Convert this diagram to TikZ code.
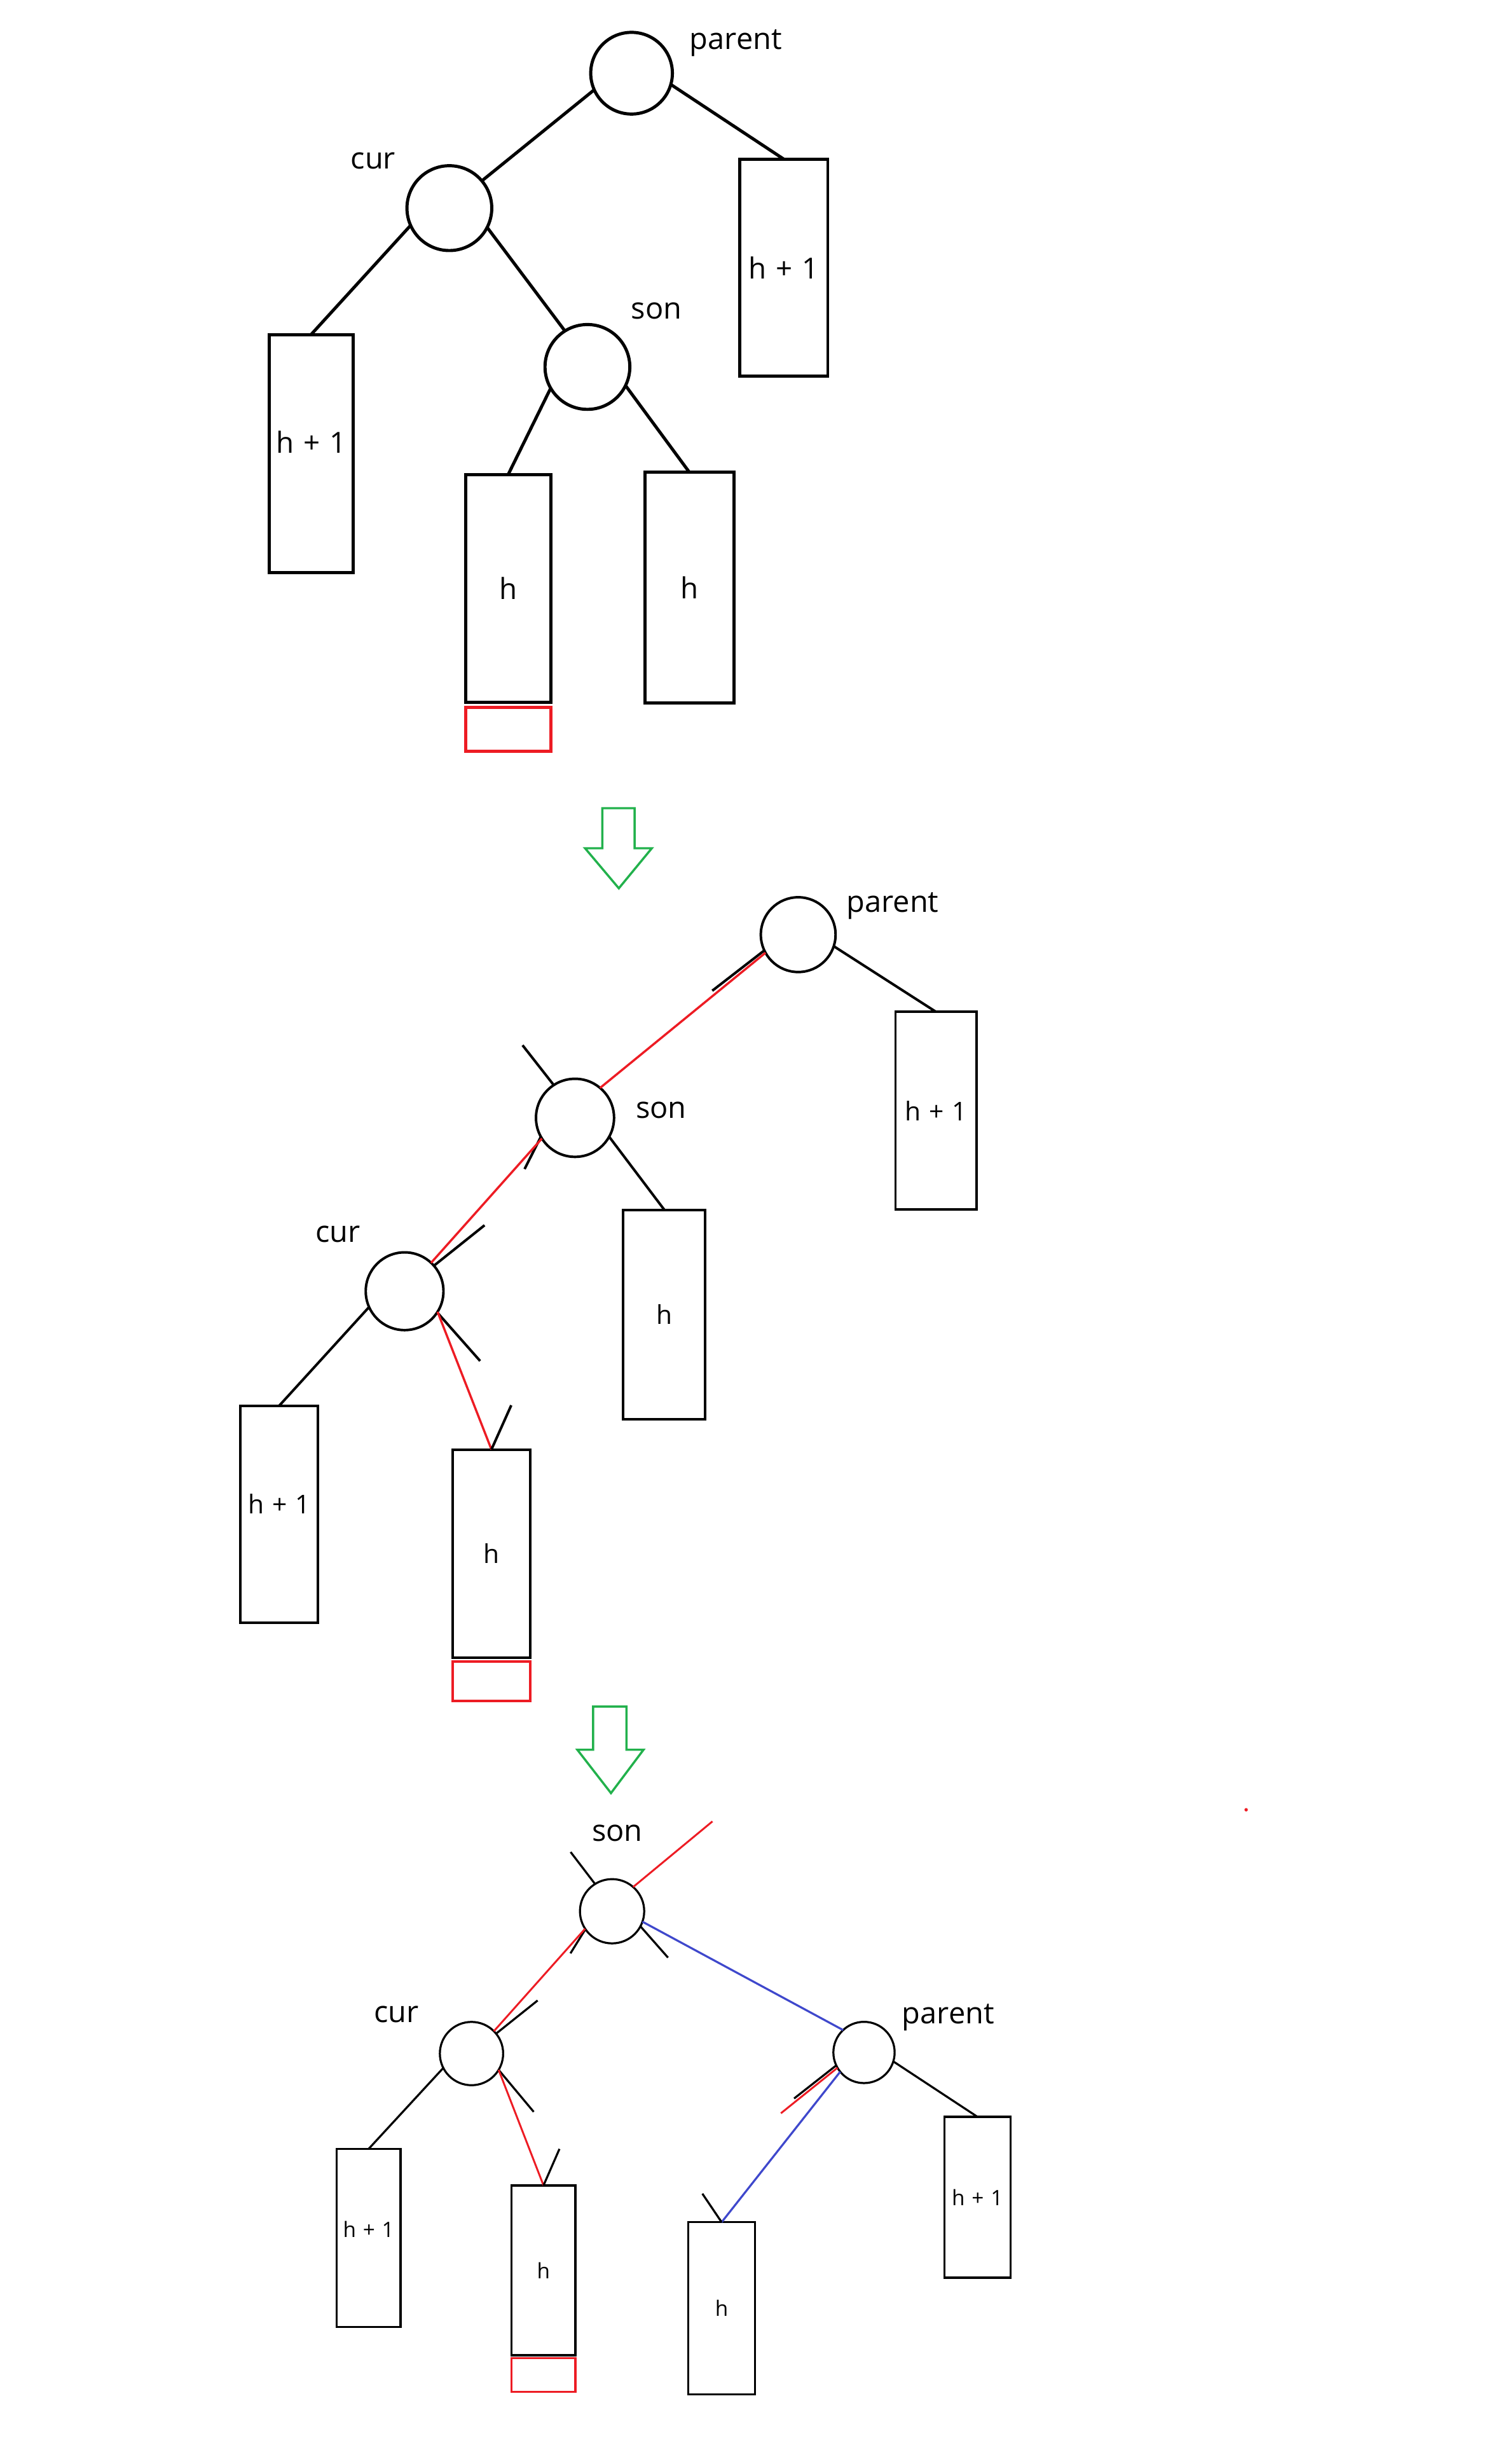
\documentclass[tikz,border=0pt]{standalone}
\usepackage{fontspec}
\setmainfont[WordSpace=1.25]{Open Sans}
\definecolor{pred}{RGB}{237,28,36}
\definecolor{pblue}{RGB}{63,72,204}
\definecolor{pgreen}{RGB}{34,177,76}
\newcommand\lblsz{\fontsize{19}{22}\selectfont}
\newcommand\boxsza{\fontsize{18.5}{22}\selectfont}
\newcommand\boxszb{\fontsize{16.5}{20}\selectfont}
\newcommand\boxszc{\fontsize{13.5}{16}\selectfont}
\begin{document}
\begin{tikzpicture}[x=1pt,y=-1pt,
  vtx/.style={circle, draw, inner sep=0pt, outer sep=0pt},
  sub/.style={rectangle, draw, inner sep=0pt, outer sep=0pt},
  lbl/.style={anchor=base, inner sep=0pt, font=\lblsz},
  wa/.style={line width=2pt},
  wb/.style={line width=1.6pt},
  wc/.style={line width=1.3pt},
  ea/.style={draw=black, wa},
  eb/.style={draw=black, wb},
  ec/.style={draw=black, wc},
  rb/.style={draw=pred, line width=1.4pt},
  rc/.style={draw=pred, line width=1.2pt},
  bc/.style={draw=pblue, line width=1.3pt},
  garrow/.style={draw=pgreen, line width=1.4pt, line join=miter}
]
\useasboundingbox (0,0) rectangle (961,1568.6);

% ---------------- Panel 1 ----------------
\node[vtx, wa, minimum size=52pt] (p1parent) at (402.1,46.6) {};
\node[vtx, wa, minimum size=54pt] (p1cur) at (286.1,132.5) {};
\node[vtx, wa, minimum size=54pt] (p1son) at (374,233.6) {};
\node[sub, wa, minimum width=56.1pt, minimum height=138.1pt, font=\boxsza] (p1rbox) at (499,170.35) {h + 1};
\node[sub, wa, minimum width=53.3pt, minimum height=151.7pt, text depth=14.8pt, font=\boxsza] (p1lbox) at (198.05,288.85) {h + 1};
\node[sub, wa, minimum width=54pt, minimum height=145pt, font=\boxsza] (p1hl) at (323.6,374.5) {h};
\node[sub, wa, minimum width=56.5pt, minimum height=146.9pt, font=\boxsza] (p1hr) at (438.95,374.15) {h};
\node[sub, draw=pred, wa, minimum width=54.3pt, minimum height=28.1pt] (p1red) at (323.75,464.35) {};

\draw[ea] (p1parent.204) -- (p1cur.40);
\draw[ea] (p1parent.-16) -- (p1rbox.north);
\draw[ea] (p1cur.204) -- (p1lbox.north);
\draw[ea] (p1cur.-27) -- (p1son.122);
\draw[ea] (p1son.210) -- (p1hl.north);
\draw[ea] (p1son.-26) -- (p1hr.north);

\node[lbl] (p1parentlbl) at (468.5,31.5) {parent};
\node[lbl] (p1curlbl) at (237.6,107.5) {cur};
\node[lbl] (p1sonlbl) at (418,202.9) {son};

% green arrow 1
\draw[garrow] (383.5,514.5) -- (404,514.5) -- (404,540) -- (415,540) -- (394,565.5) -- (372.5,540) -- (383.5,540) -- cycle;

% ---------------- Panel 2 ----------------
\node[vtx, wb, minimum size=47.6pt] (p2parent) at (508.2,595) {};
\node[vtx, wb, minimum size=49.7pt] (p2son) at (366.1,711.6) {};
\node[vtx, wb, minimum size=49.5pt] (p2cur) at (257.6,822) {};
\node[sub, wb, minimum width=51.6pt, minimum height=125.9pt, font=\boxszb] (p2rbox) at (595.95,707.1) {h + 1};
\node[sub, wb, minimum width=52.2pt, minimum height=133.3pt, font=\boxszb] (p2hr) at (422.95,836.8) {h};
\node[sub, wb, minimum width=49.4pt, minimum height=138pt, text depth=12.8pt, font=\boxszb] (p2lbox) at (177.8,963.85) {h + 1};
\node[sub, wb, minimum width=49.5pt, minimum height=132.5pt, font=\boxszb] (p2h) at (312.9,989) {h};
\node[sub, draw=pred, wb, minimum width=49.5pt, minimum height=25.2pt] (p2red) at (312.9,1070.35) {};

\coordinate (p2stubA) at (453.5,630.7);
\coordinate (p2stubB) at (332.7,665.4);
\coordinate (p2stubC) at (334,744.2);
\coordinate (p2stubD) at (308.5,780);
\coordinate (p2stubE) at (305.7,866.4);
\coordinate (p2stubF) at (325.5,894.6);

\draw[eb] (p2parent.-18) -- (p2rbox.north);
\draw[eb] (p2parent.205) -- (p2stubA);
\draw[rb] (p2parent.209) -- (p2son.50);
\draw[eb] (p2stubB) -- (p2son.123);
\draw[eb] (p2son.-29) -- (p2hr.north);
\draw[eb] (p2son.209) -- (p2stubC);
\draw[rb] (p2son.212) -- (p2cur.47);
\draw[eb] (p2cur.41) -- (p2stubD);
\draw[eb] (p2cur.204) -- (p2lbox.north);
\draw[eb] (p2cur.-33) -- (p2stubE);
\draw[rb] (p2cur.-32.5) -- (p2h.north);
\draw[eb] (p2h.north) -- (p2stubF);

\node[lbl] (p2parentlbl) at (568.4,580.5) {parent};
\node[lbl] (p2sonlbl) at (421,712) {son};
\node[lbl] (p2curlbl) at (215.1,790.8) {cur};

% green arrow 2
\draw[garrow] (377.6,1086.4) -- (398.9,1086.4) -- (398.9,1113.9) -- (409.7,1113.9) -- (389,1141.5) -- (367.6,1113.9) -- (377.6,1113.9) -- cycle;

% ---------------- Panel 3 ----------------
\node[vtx, wc, minimum size=40.9pt] (p3son) at (389.7,1216.7) {};
\node[vtx, wc, minimum size=40.3pt] (p3cur) at (300.2,1307.3) {};
\node[vtx, wc, minimum size=39pt] (p3parent) at (550.1,1306.6) {};
\node[sub, wc, minimum width=40.8pt, minimum height=113.4pt, text depth=11.4pt, font=\boxszc] (p3lbox) at (234.65,1424.75) {h + 1};
\node[sub, wc, minimum width=40.6pt, minimum height=108.1pt, font=\boxszc] (p3h) at (346.05,1445.3) {h};
\node[sub, draw=pred, wc, minimum width=40.7pt, minimum height=21.4pt] (p3red) at (346,1511.95) {};
\node[sub, wc, minimum width=42.4pt, minimum height=109.7pt, font=\boxszc] (p3hp) at (459.45,1469.5) {h};
\node[sub, wc, minimum width=42.1pt, minimum height=102.4pt, font=\boxszc] (p3rbox) at (622.3,1398.75) {h + 1};

\coordinate (p3redend) at (453.6,1159.5);
\coordinate (p3stubA) at (363.3,1179);
\coordinate (p3stubB) at (425.3,1246.2);
\coordinate (p3stubC) at (363.2,1243.5);
\coordinate (p3stubD) at (342.3,1273.5);
\coordinate (p3stubE) at (339.8,1344.4);
\coordinate (p3stubF) at (356.2,1368);
\coordinate (p3stubG) at (447.2,1396.5);
\coordinate (p3stubH) at (497.2,1345.3);
\coordinate (p3stubI) at (505.6,1335.9);

\draw[rc] (p3son.49) -- (p3redend);
\draw[ec] (p3stubA) -- (p3son.122);
\draw[ec] (p3son.-28) -- (p3stubB);
\draw[bc] (p3son.-19) -- (p3parent.133);
\draw[ec] (p3son.214) -- (p3stubC);
\draw[rc] (p3son.213) -- (p3cur.45);
\draw[ec] (p3cur.39) -- (p3stubD);
\draw[ec] (p3cur.-31) -- (p3stubE);
\draw[rc] (p3cur.-31.5) -- (p3h.north);
\draw[ec] (p3h.north) -- (p3stubF);
\draw[ec] (p3cur.207) -- (p3lbox.north);
\draw[ec] (p3parent.-17) -- (p3rbox.north);
\draw[ec] (p3parent.205) -- (p3stubI);
\draw[rc] (p3parent.210) -- (p3stubH);
\draw[bc] (p3parent.219) -- (p3hp.north);
\draw[ec] (p3stubG) -- (p3hp.north);

\node[lbl] (p3sonlbl) at (393,1172) {son};
\node[lbl] (p3parentlbl) at (603.7,1288.1) {parent};
\node[lbl] (p3curlbl) at (252.5,1287.6) {cur};

% stray red dot
\fill[pred] (793.4,1152.1) circle (1.1pt);
\end{tikzpicture}
\end{document}
